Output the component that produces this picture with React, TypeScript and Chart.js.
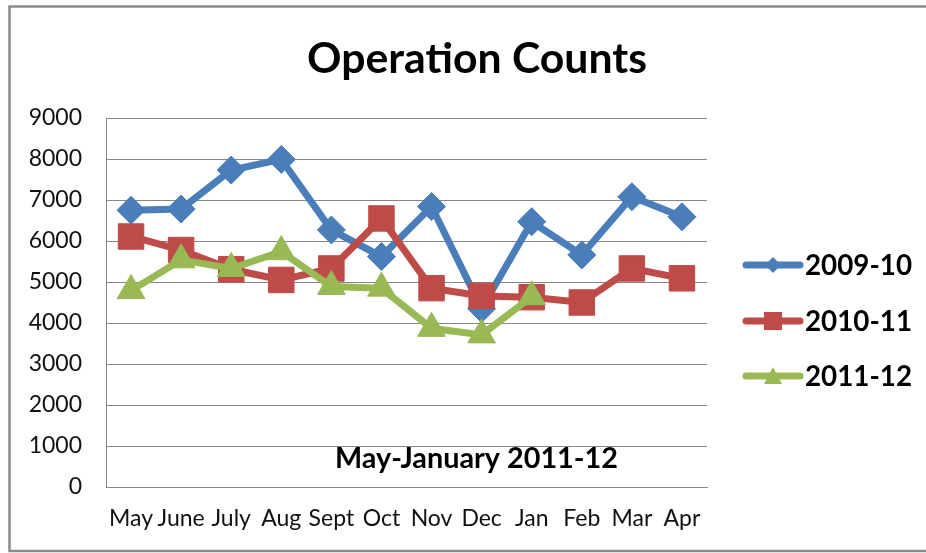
import React, { useEffect, useRef } from 'react';
import { Chart, registerables } from 'chart.js';

Chart.register(...registerables);

const categories = ['May', 'June', 'July', 'Aug', 'Sept', 'Oct', 'Nov', 'Dec', 'Jan', 'Feb', 'Mar', 'Apr'];
const seriesNames = ['2009-10', '2010-11', '2011-12'];
const values2009_10 = [6750, 6780, 7730, 7990, 6270, 5620, 6840, 4350, 6470, 5660, 7080, 6590];
const values2010_11 = [6110, 5780, 5310, 5050, 5330, 6550, 4850, 4660, 4630, 4500, 5330, 5090];
const values2011_12 = [4790, 5540, 5330, 5740, 4890, 4850, 3870, 3710, 4640, null, null, null];
const yMin = 0;
const yMax = 9000;
const yStep = 1000;
const titleText = 'Operation Counts';
const noteText = 'May-January 2011-12';

const FAMILY = 'Lato, "Open Sans", sans-serif';
const COLORS = ['#4A7EBB', '#BE4B48', '#98B954'];
const STYLES = ['rectRot', 'rect', 'triangle'];
const RADII = [14, 18, 16];

function fitFont(ctx: CanvasRenderingContext2D, text: string, weight: string, target: number) {
  ctx.font = `${weight} 100px ${FAMILY}`;
  const w = ctx.measureText(text).width;
  return (100 * target) / w;
}

function drawMarker(ctx: CanvasRenderingContext2D, kind: number, x: number, y: number, color: string) {
  ctx.fillStyle = color;
  ctx.beginPath();
  if (kind === 0) {
    const h = 8;
    ctx.moveTo(x, y - h);
    ctx.lineTo(x + h, y);
    ctx.lineTo(x, y + h);
    ctx.lineTo(x - h, y);
  } else if (kind === 1) {
    ctx.rect(x - 9, y - 9, 18, 18);
  } else {
    ctx.moveTo(x, y - 9);
    ctx.lineTo(x + 9, y + 8);
    ctx.lineTo(x - 9, y + 8);
  }
  ctx.closePath();
  ctx.fill();
}

const decor = {
  id: 'decor',
  beforeDraw(chart: any) {
    const ctx: CanvasRenderingContext2D = chart.ctx;
    ctx.save();
    ctx.fillStyle = '#ffffff';
    ctx.fillRect(0, 0, chart.width, chart.height);
    ctx.strokeStyle = '#8a8a8a';
    ctx.lineWidth = 2.5;
    ctx.strokeRect(9.5, 6.5, chart.width + 20, chart.height - 7.5 - 1);
    ctx.restore();
  },
  afterDraw(chart: any) {
    const ctx: CanvasRenderingContext2D = chart.ctx;
    const area = chart.chartArea;
    ctx.save();
    // title
    const ts = fitFont(ctx, titleText, 'bold', 340);
    ctx.font = `bold ${ts}px ${FAMILY}`;
    ctx.fillStyle = '#000';
    ctx.textAlign = 'center';
    ctx.textBaseline = 'alphabetic';
    ctx.fillText(titleText, 477, 73);

    // legend
    const ls = fitFont(ctx, seriesNames[0], 'bold', 107);
    const legendY = [265, 321, 376];
    seriesNames.forEach((name, i) => {
      const y = legendY[i];
      ctx.strokeStyle = COLORS[i];
      ctx.lineWidth = 7;
      ctx.lineCap = 'round';
      ctx.beginPath();
      ctx.moveTo(746, y);
      ctx.lineTo(800, y);
      ctx.stroke();
      drawMarker(ctx, i, 773, y, COLORS[i]);
      ctx.font = `bold ${ls}px ${FAMILY}`;
      ctx.fillStyle = '#000';
      ctx.textAlign = 'left';
      ctx.textBaseline = 'middle';
      ctx.fillText(name, 805, y + 1);
    });

    // annotation in plot
    const ns = fitFont(ctx, noteText, 'bold', 283);
    ctx.font = `bold ${ns}px ${FAMILY}`;
    ctx.fillStyle = '#000';
    ctx.textAlign = 'center';
    ctx.textBaseline = 'alphabetic';
    ctx.fillText(noteText, (area.left + area.right) / 2 + 70, area.bottom - 19);
    ctx.restore();
  },
};

export default function App() {
  const ref = useRef<HTMLCanvasElement | null>(null);
  useEffect(() => {
    if (!ref.current) return;
    const seriesValues = [values2009_10, values2010_11, values2011_12];
    const chart = new Chart(ref.current, {
      type: 'line',
      data: {
        labels: categories,
        datasets: seriesNames.map((name, i) => ({
          label: name,
          data: seriesValues[i],
          borderColor: COLORS[i],
          backgroundColor: COLORS[i],
          borderWidth: 7,
          pointStyle: STYLES[i] as any,
          pointRadius: RADII[i],
          pointHoverRadius: RADII[i],
          pointBorderWidth: 1,
          pointBorderColor: COLORS[i],
          pointBackgroundColor: COLORS[i],
          tension: 0,
          spanGaps: false,
          order: 2 - i,
        })),
      },
      options: {
        animation: false,
        responsive: true,
        maintainAspectRatio: false,
        layout: { padding: { left: 0, top: 118, right: 219, bottom: 16 } },
        plugins: {
          legend: { display: false },
          title: { display: false },
          tooltip: { enabled: false },
        },
        scales: {
          x: {
            offset: true,
            grid: { display: false, drawTicks: false, offset: true },
            border: { display: true, color: '#868686', width: 1 },
            ticks: { color: '#111', font: { family: FAMILY, size: 23 }, padding: 18, autoSkip: false, maxRotation: 0 },
            afterFit: (s: any) => { s.height = 50; },
          },
          y: {
            min: yMin,
            max: yMax,
            grid: { color: '#868686', lineWidth: 1, drawTicks: false },
            border: { display: true, color: '#868686', width: 1 },
            ticks: {
              stepSize: yStep,
              color: '#111',
              font: { family: FAMILY, size: 23 },
              padding: 24,
              callback: (v: any) => String(v),
            },
            afterFit: (s: any) => { s.width = 106; },
          },
        },
      },
      plugins: [decor],
    });
    return () => chart.destroy();
  }, []);
  return (
    <div style={{ position: 'fixed', left: 0, top: 0, width: 926, height: 553 }}>
      <canvas ref={ref} />
    </div>
  );
}
